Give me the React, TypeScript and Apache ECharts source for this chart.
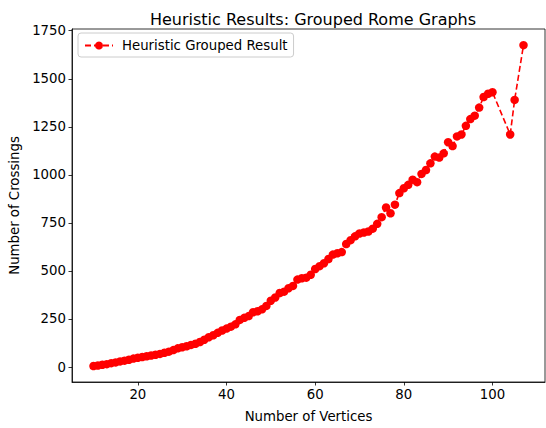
import React, { useEffect, useRef } from "react";
import * as echarts from "echarts";

const vertices: number[] = [
  10, 11, 12, 13, 14, 15, 16, 17, 18, 19, 20, 21, 22, 23, 24, 25, 26, 27, 28, 29,
  30, 31, 32, 33, 34, 35, 36, 37, 38, 39, 40, 41, 42, 43, 44, 45, 46, 47, 48, 49,
  50, 51, 52, 53, 54, 55, 56, 57, 58, 59, 60, 61, 62, 63, 64, 65, 66, 67, 68, 69,
  70, 71, 72, 73, 74, 75, 76, 77, 78, 79, 80, 81, 82, 83, 84, 85, 86, 87, 88, 89,
  90, 91, 92, 93, 94, 95, 96, 97, 98, 99, 100, 104, 105, 107,
];
const crossings: number[] = [
  5, 8, 12, 15, 20, 24, 29, 33, 38, 44, 48, 52, 56, 60, 64, 68, 74, 80, 88, 97,
  103, 108, 115, 121, 130, 142, 155, 165, 178, 190, 200, 210, 222, 245, 256, 265, 285, 290, 300, 318,
  345, 362, 385, 392, 410, 422, 455, 462, 465, 480, 510, 525, 540, 562, 585, 592, 598, 640, 660, 680,
  695, 700, 705, 720, 745, 780, 830, 800, 845, 905, 930, 948, 975, 962, 1005, 1025, 1060, 1095, 1090, 1112,
  1170, 1150, 1200, 1210, 1255, 1290, 1308, 1350, 1405, 1422, 1430, 1210, 1390, 1675,
];
const xTicks: number[] = [20, 40, 60, 80, 100];
const yTicks: number[] = [0, 250, 500, 750, 1000, 1250, 1500, 1750];

const FONT = "DejaVu Sans";

export default function App() {
  const ref = useRef<HTMLDivElement>(null);
  useEffect(() => {
    if (!ref.current) return;
    const chart = echarts.init(ref.current, undefined, { renderer: "svg" });
    const data = vertices.map((v, i) => [v, crossings[i]]);
    chart.setOption({
      animation: false,
      backgroundColor: "#ffffff",
      title: {
        text: "Heuristic Results: Grouped Rome Graphs",
        left: 308,
        textAlign: "center",
        top: 6,
        textStyle: { fontFamily: FONT, fontSize: 16, fontWeight: "normal", color: "#000" },
      },
      legend: {
        data: ["Heuristic Grouped Result"],
        left: 78,
        top: 33,
        orient: "vertical",
        padding: [6, 6, 5, 6],
        borderColor: "#cccccc",
        borderWidth: 1,
        borderRadius: 3,
        backgroundColor: "rgba(255,255,255,0.8)",
        itemWidth: 28,
        itemHeight: 10,
        itemGap: 6,
        textStyle: { fontFamily: FONT, fontSize: 13.3, color: "#000", padding: [0, 0, 0, 4] },
      },
      grid: {
        left: 72,
        right: 1,
        top: 29,
        bottom: 45,
        show: true,
        borderColor: "#000",
        borderWidth: 0.8,
        containLabel: false,
      },
      xAxis: {
        type: "value",
        min: 5.15,
        max: 111.85,
        name: "Number of Vertices",
        nameLocation: "middle",
        nameGap: 28,
        nameTextStyle: { fontFamily: FONT, fontSize: 13.3, color: "#000" },
        splitLine: { show: false },
        axisLine: { show: true, onZero: false, lineStyle: { color: "#000", width: 0.8 } },
        axisTick: { show: true, inside: false, length: 3.5, customValues: xTicks, lineStyle: { color: "#000", width: 0.8 } },
        axisLabel: { customValues: xTicks, fontFamily: FONT, fontSize: 13.3, color: "#000", margin: 6 },
      },
      yAxis: {
        type: "value",
        min: -78,
        max: 1759,
        name: "Number of Crossings",
        nameLocation: "middle",
        nameGap: 48,
        nameRotate: 90,
        nameTextStyle: { fontFamily: FONT, fontSize: 13.3, color: "#000" },
        splitLine: { show: false },
        axisLine: { show: true, onZero: false, lineStyle: { color: "#000", width: 0.8 } },
        axisTick: { show: true, inside: false, length: 3.5, customValues: yTicks, lineStyle: { color: "#000", width: 0.8 } },
        axisLabel: {
          customValues: yTicks,
          formatter: (v: number) => String(v),
          fontFamily: FONT,
          fontSize: 13.3,
          color: "#000",
          margin: 6,
        },
      },
      series: [
        {
          name: "Heuristic Grouped Result",
          type: "line",
          data,
          symbol: "circle",
          symbolSize: 8.5,
          showAllSymbol: true,
          itemStyle: { color: "#ff0000" },
          lineStyle: { color: "#ff0000", width: 1.6, type: [6, 3] },
        },
      ],
    });
    return () => chart.dispose();
  }, []);
  return <div ref={ref} style={{ width: 546, height: 428, position: "absolute", left: 0, top: 0 }} />;
}
